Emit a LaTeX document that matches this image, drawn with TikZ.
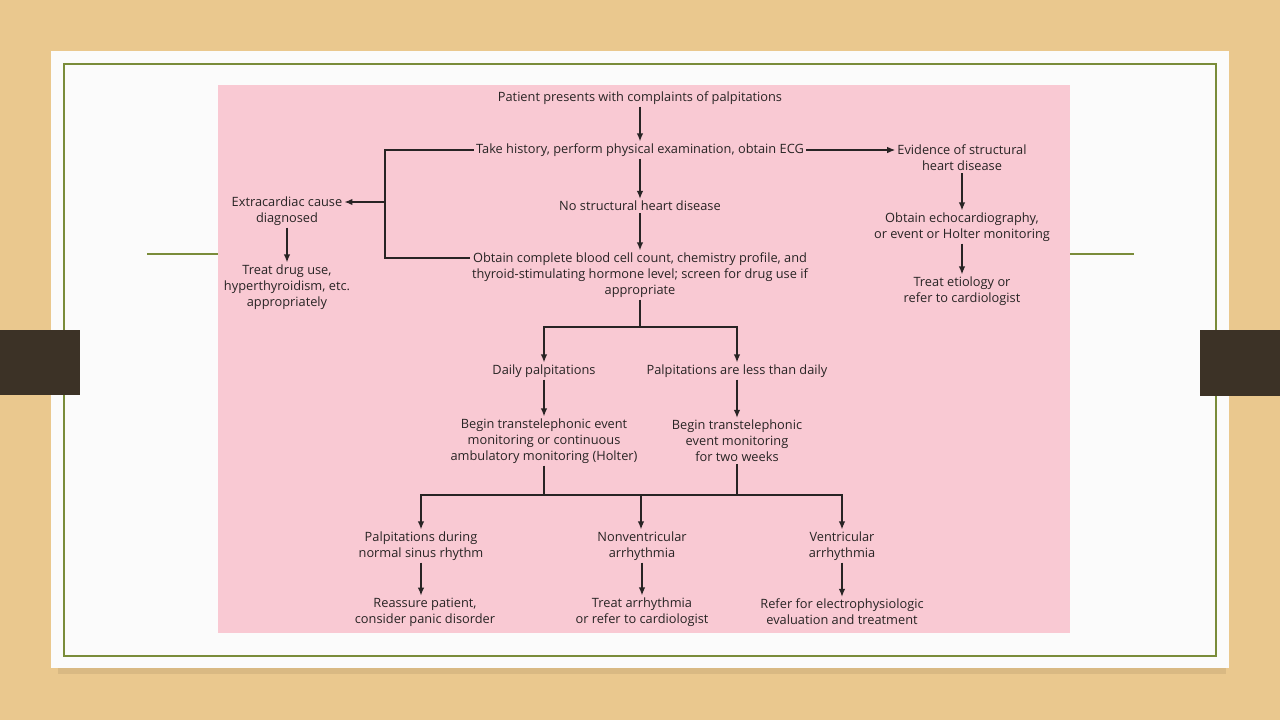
\documentclass[tikz,border=0pt]{standalone}
\usepackage{fontspec}
\setmainfont{Open Sans}
\usetikzlibrary{arrows.meta}

\definecolor{wood}{RGB}{234,200,142}
\definecolor{pinkbg}{RGB}{249,201,211}
\definecolor{olive}{RGB}{122,140,58}
\definecolor{tabbrown}{RGB}{60,50,38}
\definecolor{ink}{RGB}{40,36,36}

\tikzset{
  box/.style={align=center,inner sep=2pt,text=ink,font=\fontsize{12.8}{16}\selectfont},
  arr/.style={draw=ink,line width=1.3pt,-{Latex[length=8pt,width=6.5pt]}},
  link/.style={draw=ink,line width=1.3pt},
}

\begin{document}
\begin{tikzpicture}[x=1pt,y=-1pt]
        \useasboundingbox (0,0) rectangle (1280,720) ;
        % slide background
        \fill[wood] (0,0) rectangle (1280,720) ;
        \fill[black,opacity=0.07] (58,666) rectangle (1226,674) ;
        \fill[white!97!gray] (51,51) rectangle (1229,668) ;
        \draw[olive,line width=2pt] (64,64) rectangle (1216,656) ;
        \draw[olive,line width=1.5pt] (147,254) -- (218,254) ;
        \draw[olive,line width=1.5pt] (1070,254) -- (1134,254) ;
        \fill[tabbrown] (0,330) rectangle (80,395) ;
        \fill[tabbrown] (1200,330) rectangle (1280,396) ;
        \fill[pinkbg] (218,85) rectangle (1070,633) ;

        % main column
        \node[box] (start) at (640,98) {Patient presents with complaints of palpitations} ;
        \node[box] (history) at (640,150) {Take history, perform physical examination, obtain ECG} ;
        \node[box] (nostruct) at (640,206) {No structural heart disease} ;
        \node[box] (blood) at (640,275) {Obtain complete blood cell count, chemistry profile, and\\
          thyroid-stimulating hormone level; screen for drug use if\\ appropriate} ;
        % right column
        \node[box] (struct) at (962,158) {Evidence of structural\\ heart disease} ;
        \node[box] (echo) at (962,227) {Obtain echocardiography,\\ or event or Holter monitoring} ;
        \node[box] (etiol) at (962,291) {Treat etiology or\\ refer to cardiologist} ;
        % left column
        \node[box] (extra) at (287,211) {Extracardiac cause\\ diagnosed} ;
        \node[box] (drug) at (287,287) {Treat drug use,\\ hyperthyroidism, etc.\\ appropriately} ;
        % frequency
        \node[box] (daily) at (544,371) {Daily palpitations} ;
        \node[box] (less) at (737,371) {Palpitations are less than daily} ;
        \node[box] (holter) at (544,441) {Begin transtelephonic event\\ monitoring or continuous\\
          ambulatory monitoring (Holter)} ;
        \node[box] (event) at (737,441) {Begin transtelephonic\\ event monitoring\\ for two weeks} ;
        % results
        \node[box] (sinus) at (421,546) {Palpitations during\\ normal sinus rhythm} ;
        \node[box] (nonv) at (642,546) {Nonventricular\\ arrhythmia} ;
        \node[box] (vent) at (842,546) {Ventricular\\ arrhythmia} ;
        \node[box] (reassure) at (425,612) {Reassure patient,\\ consider panic disorder} ;
        \node[box] (treatarr) at (642,612) {Treat arrhythmia\\ or refer to cardiologist} ;
        \node[box] (ephys) at (842,612) {Refer for electrophysiologic\\ evaluation and treatment} ;

        \coordinate (split) at (385,202) ;
        \coordinate (bloodin) at (blood.west |- 0,258) ;
        \coordinate (fork1) at (640,327) ;
        \coordinate (fork2) at (641,495) ;

        \draw[arr] (start) -- (history) ;
        \draw[arr] (history) -- (nostruct) ;
        \draw[arr] (nostruct) -- (blood) ;
        \draw[arr] (history.east) -- (struct.west |- history) ;
        \draw[arr] (struct) -- (echo) ;
        \draw[arr] (echo) -- (etiol) ;
        \draw[link] (history.west) -| (split) |- (bloodin) ;
        \draw[arr] (split) -- (extra.east |- split) ;
        \draw[arr] (extra) -- (drug) ;
        \draw[link] (blood.south) -- (fork1) ;
        \draw[arr] (fork1) -| (daily.north) ;
        \draw[arr] (fork1) -| (less.north) ;
        \draw[arr] (daily) -- (holter) ;
        \draw[arr] (less) -- (event) ;
        \draw[link] (holter.south) -- (holter.south |- fork2) ;
        \draw[link] (event.south) -- (event.south |- fork2) ;
        \draw[arr] (fork2) -| (sinus.north) ;
        \draw[arr] (fork2) -| (vent.north) ;
        \draw[arr] (fork2) -- (nonv.north -| fork2) ;
        \draw[arr] (sinus.south -| 421,0) -- (reassure.north -| 421,0) ;
        \draw[arr] (nonv) -- (treatarr) ;
        \draw[arr] (vent) -- (ephys) ;
      \end{tikzpicture}
\end{document}
